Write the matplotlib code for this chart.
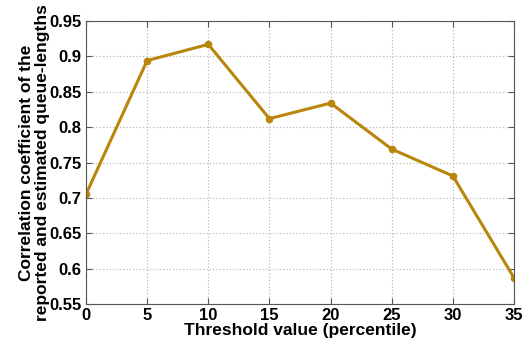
import numpy as np
import matplotlib
matplotlib.use("Agg")
import matplotlib.pyplot as plt

# threshold (percentile) vs correlation coefficient
thresholds = [0, 5, 10, 15, 20, 25, 30, 35]
corr = [0.705, 0.894, 0.917, 0.812, 0.834, 0.769, 0.731, 0.587]

plt.rcParams['font.family'] = ['Liberation Sans', 'DejaVu Sans']
plt.rcParams['font.weight'] = 'bold'

fig = plt.figure(figsize=(5.24, 3.44), dpi=100)
ax = fig.add_axes([0.164, 0.116, 0.817, 0.823])

ax.plot(thresholds, corr, color='#B8860B', lw=2.2, marker='o', ms=4.5)

ax.set_xlim(0, 35)
ax.set_ylim(0.55, 0.95)
ax.set_xticks(np.arange(0, 36, 5))
ax.set_yticks(np.arange(0.55, 0.951, 0.05))
ax.set_yticklabels(['0.55', '0.6', '0.65', '0.7', '0.75', '0.8', '0.85', '0.9', '0.95'])
ax.grid(True, ls=(0, (1, 2)), color='#b0b0b0', lw=0.8)
ax.tick_params(direction='in', top=True, right=True, labelsize=12, length=4,
               color='#555555', pad=3)
for s in ax.spines.values():
    s.set_color('#555555')

ax.set_xlabel('Threshold value (percentile)', fontsize=12.5, fontweight='bold', labelpad=0)
ax.set_ylabel('Correlation coefficient of the\nreported and estimated queue-lengths',
              fontsize=12.5, fontweight='bold', labelpad=0, linespacing=1.05)

fig.savefig('out.png', dpi=100)
